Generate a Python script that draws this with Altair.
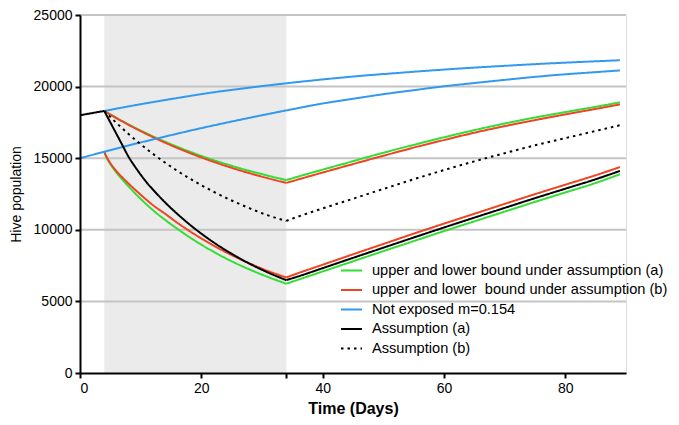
import altair as alt
import pandas as pd

FONT = "Liberation Sans, Arial, sans-serif"

# ---- series labels (legend order) ----
SERIES = [
    "upper and lower bound under assumption (a)",
    "upper and lower\u00a0 bound under assumption (b)",
    "Not exposed m=0.154",
    "Assumption (a)",
    "\u00a0Assumption (b)",
]
COLORS = ["#33dd33", "#ee4422", "#3399ee", "#000000", "#000000"]
DASHES = [[1, 0], [1, 0], [1, 0], [1, 0], [2.5, 4]]

# ---- exposure window (days) ----
SHADE_START = [4]
SHADE_END = [34]

# ---- Assumption (a) : black solid ----
A_PRE_DAYS = [0, 4]
A_PRE_VALS = [18000, 18300]
A_DEC_DAYS = [4, 4.5, 5, 6, 7, 8, 9, 10, 11, 12, 14, 16, 18, 20, 22, 25, 28, 31, 34]
A_DEC_VALS = [18300, 17900, 17500, 16700, 15900, 15100, 14450, 13850, 13300, 12820,
              11924, 11124, 10395, 9732, 9128, 8322, 7623, 7014, 6486]
A_REC_DAYS = [34, 36, 40, 45, 50, 55, 60, 65, 70, 75, 80, 85, 89]
A_REC_VALS = [6486, 6750, 7320, 8040, 8750, 9460, 10160, 10850, 11530, 12210, 12870, 13530, 14110]

# ---- Assumption (b) : black dotted ----
B_DEC_DAYS = [4, 6, 8, 10, 12, 14, 16, 18, 20, 22, 25, 28, 31, 34]
B_DEC_VALS = [18300, 17465, 16691, 15975, 15311, 14696, 14128, 13601, 13113, 12661,
              12045, 11496, 11007, 10620]
B_REC_DAYS = [34, 36, 40, 45, 50, 55, 60, 65, 70, 75, 80, 85, 89]
B_REC_VALS = [10620, 10930, 11490, 12170, 12850, 13530, 14170, 14780, 15350, 15900, 16400, 16900, 17300]

# ---- upper bounds ----
UP_DEC_DAYS = [4, 6, 8, 10, 12, 14, 16, 18, 20, 22, 25, 28, 31, 34]
GREEN_UP_DEC = [18300, 17815, 17360, 16930, 16530, 16155, 15800, 15470, 15160, 14870,
                14470, 14105, 13775, 13475]
RED_UP_DEC = [18300, 17801, 17332, 16892, 16477, 16088, 15722, 15378, 15055, 14751,
              14328, 13944, 13594, 13275]
UP_REC_DAYS = [34, 36, 40, 45, 50, 55, 60, 65, 70, 75, 80, 85, 89]
GREEN_UP_REC = [13475, 13720, 14200, 14790, 15380, 15930, 16460, 16960, 17420, 17840, 18220, 18590, 18900]
RED_UP_REC = [13275, 13520, 14000, 14590, 15170, 15740, 16270, 16780, 17240, 17660, 18060, 18440, 18760]

# ---- lower bounds ----
LO_DEC_DAYS = [4, 4.5, 5, 6, 7, 8, 9, 10, 11, 12, 14, 16, 18, 20, 22, 25, 28, 31, 34]
RED_LO_DEC = [15450, 15000, 14650, 14100, 13650, 13230, 12830, 12450, 12080, 11730,
              11128, 10503, 9926, 9394, 8902, 8235, 7642, 7118, 6670]
GREEN_LO_DEC = [15400, 14950, 14600, 14000, 13500, 13030, 12580, 12160, 11760, 11380,
                10700, 10080, 9500, 8960, 8470, 7800, 7220, 6700, 6235]
LO_REC_DAYS = [34, 36, 40, 45, 50, 55, 60, 65, 70, 75, 80, 85, 89]
RED_LO_REC = [6670, 6980, 7560, 8290, 9010, 9730, 10430, 11120, 11810, 12490, 13150, 13810, 14380]
GREEN_LO_REC = [6235, 6520, 7090, 7800, 8510, 9210, 9910, 10590, 11270, 11950, 12610, 13270, 13880]

# ---- not exposed ----
BLUE_UP_DAYS = [4, 10, 16, 22, 28, 34, 40, 46, 52, 58, 64, 70, 76, 82, 89]
BLUE_UP_VALS = [18300, 18770, 19200, 19600, 19930, 20230, 20500, 20740, 20940, 21130,
                21300, 21450, 21590, 21710, 21840]
BLUE_LO_DAYS = [0, 5, 10, 15, 20, 25, 30, 35, 40, 45, 50, 55, 60, 65, 70, 75, 80, 85, 89]
BLUE_LO_VALS = [15000, 15560, 16100, 16610, 17100, 17560, 18000, 18420, 18820, 19150,
                19470, 19750, 20020, 20250, 20470, 20680, 20860, 21010, 21130]

Y_TICKS = [0, 5000, 10000, 15000, 20000, 25000]
X_TICKS = [0, 20, 34, 40, 60, 80]

segments = [
    ("green_up_dec", SERIES[0], UP_DEC_DAYS, GREEN_UP_DEC),
    ("green_up_rec", SERIES[0], UP_REC_DAYS, GREEN_UP_REC),
    ("green_lo_dec", SERIES[0], LO_DEC_DAYS, GREEN_LO_DEC),
    ("green_lo_rec", SERIES[0], LO_REC_DAYS, GREEN_LO_REC),
    ("red_up_dec", SERIES[1], UP_DEC_DAYS, RED_UP_DEC),
    ("red_up_rec", SERIES[1], UP_REC_DAYS, RED_UP_REC),
    ("red_lo_dec", SERIES[1], LO_DEC_DAYS, RED_LO_DEC),
    ("red_lo_rec", SERIES[1], LO_REC_DAYS, RED_LO_REC),
    ("blue_up", SERIES[2], BLUE_UP_DAYS, BLUE_UP_VALS),
    ("blue_lo", SERIES[2], BLUE_LO_DAYS, BLUE_LO_VALS),
    ("a_pre", SERIES[3], A_PRE_DAYS, A_PRE_VALS),
    ("a_dec", SERIES[3], A_DEC_DAYS, A_DEC_VALS),
    ("a_rec", SERIES[3], A_REC_DAYS, A_REC_VALS),
    ("b_dec", SERIES[4], B_DEC_DAYS, B_DEC_VALS),
    ("b_rec", SERIES[4], B_REC_DAYS, B_REC_VALS),
]

rows = []
for order, (lid, ser, days, vals) in enumerate(segments):
    for d, v in zip(days, vals):
        rows.append({"line": lid, "series": ser, "day": d, "pop": v, "o": order})
df = pd.DataFrame(rows)

shade_df = pd.DataFrame({"day": SHADE_START, "x2": SHADE_END, "pop": [0], "y2": [25000]})
grid_df = pd.DataFrame({"pop": Y_TICKS[1:]})

xscale = alt.Scale(domain=[0, 90], nice=False, zero=False)
yscale = alt.Scale(domain=[0, 25000], nice=False)

X_AXIS = alt.Axis(values=X_TICKS, labelExpr="datum.value == 34 ? '' : datum.label",
                  title="Time (Days)", grid=False, zindex=1,
                  domainColor="#000", domainWidth=2, tickColor="#000", tickWidth=2,
                  tickSize=5, labelFont=FONT, labelFontSize=14, labelColor="#000",
                  labelPadding=3, titleFont=FONT, titleFontSize=16,
                  titleFontWeight="bold", titleColor="#000", titlePadding=5)
Y_AXIS = alt.Axis(values=Y_TICKS, format="d", title="Hive population", grid=False, zindex=1,
                  domainColor="#000", domainWidth=2, tickColor="#000", tickWidth=2,
                  tickSize=5, labelFont=FONT, labelFontSize=14, labelColor="#000",
                  labelPadding=3, titleFont=FONT, titleFontSize=14,
                  titleFontWeight="normal", titleColor="#000", titlePadding=10)

shade = alt.Chart(shade_df).mark_rect(color="#ebebeb").encode(
    x=alt.X("day:Q", scale=xscale, axis=X_AXIS),
    x2="x2:Q",
    y=alt.Y("pop:Q", scale=yscale, axis=Y_AXIS),
    y2="y2:Q",
)

grid = alt.Chart(grid_df).mark_rule(color="#c4c4c4", strokeWidth=2).encode(
    y=alt.Y("pop:Q", scale=yscale, axis=Y_AXIS)
)

legend = alt.Legend(
    orient="none", legendX=260, legendY=244, title=None,
    symbolType="stroke", symbolSize=441, symbolStrokeWidth=2,
    labelFont=FONT, labelFontSize=14.6, labelColor="#000000",
    labelOffset=9, rowPadding=0.5, labelLimit=500, padding=0,
)

lines = alt.Chart(df).mark_line(strokeWidth=2, interpolate="monotone").encode(
    x=alt.X("day:Q", scale=xscale, axis=X_AXIS),
    y=alt.Y("pop:Q", scale=yscale, axis=Y_AXIS),
    color=alt.Color("series:N", scale=alt.Scale(domain=SERIES, range=COLORS), legend=legend),
    strokeDash=alt.StrokeDash("series:N", scale=alt.Scale(domain=SERIES, range=DASHES), legend=legend),
    detail="line:N",
    order="o:Q",
)

chart = alt.layer(shade, grid, lines).properties(
    width=546, height=358,
    autosize=alt.AutoSizeParams(type="none"),
    padding={"left": 72, "top": 7, "right": 45, "bottom": 44},
).configure_view(stroke="transparent", strokeWidth=0).configure(background="white")

chart.save("out.html", embed_options={"renderer": "svg", "actions": False})
